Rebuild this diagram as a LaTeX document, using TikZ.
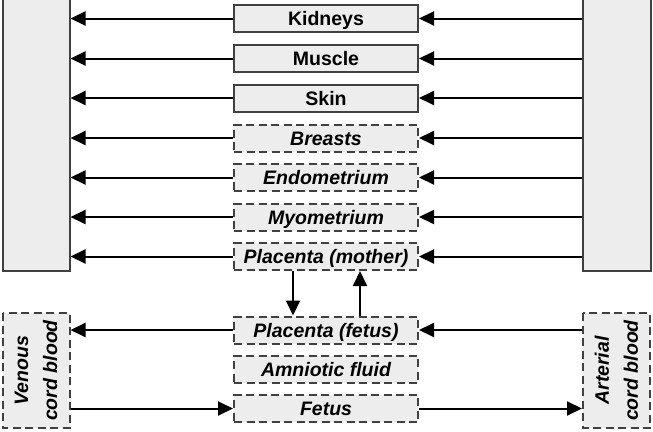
\documentclass[tikz,border=0pt]{standalone}
\usepackage{fontspec}
\setmainfont{Liberation Sans}
\usetikzlibrary{positioning,calc,arrows.meta}

\tikzset{
    organ/.style={draw=black!75, line width=2pt, fill=black!7, minimum width=184pt, minimum height=27pt, inner sep=0pt, text height=14pt, text depth=0pt, font=\fontsize{19.5}{21}\selectfont\bfseries},
    tissue/.style={organ, dash pattern=on 8pt off 4.5pt, font=\fontsize{19.5}{21}\selectfont\bfseries\itshape},
    pool/.style={draw=black!75, line width=2pt, fill=black!7, inner sep=0pt},
    cord/.style={pool, dash pattern=on 8pt off 4.5pt, rotate=90, align=center, minimum width=115pt, minimum height=67pt, font=\fontsize{19.5}{29}\selectfont\bfseries\itshape},
    flow/.style={line width=2pt, -{Triangle[length=15pt,width=14pt]}}
}

\begin{document}
\begin{tikzpicture}[x=1pt, y=-1pt]
    \useasboundingbox (0,0) rectangle (653,431);
    \clip (0,0) rectangle (653,431);

    % Maternal blood (tops cut off)
    \node[pool, minimum width=67pt, minimum height=300pt] (veinM) at (36,121) {};
    \node[pool, minimum width=68pt, minimum height=300pt] (artM) at (616.5,121) {};

    % Cord blood (rotated: south is the right side, north the left side)
    \node[cord] (veinC) at (36,370.5) {Venous\\cord blood};
    \node[cord] (artC) at (616.5,370.5) {Arterial\\cord blood};

    % Tissues
    \node[organ] (kid) at (326,18.5) {Kidneys};
    \node[organ] (mus) at (326,58.5) {Muscle};
    \node[organ] (skin) at (326,98) {Skin};
    \node[tissue] (brst) at (326,138) {Breasts};
    \node[tissue] (endo) at (326,177.5) {Endometrium};
    \node[tissue] (myo) at (326,217) {Myometrium};
    \node[tissue] (plM) at (326,256.5) {Placenta (mother)};
    \node[tissue] (plF) at (326,330) {Placenta (fetus)};
    \node[tissue] (amn) at (326,369.5) {Amniotic fluid};
    \node[tissue] (fet) at (326,408.5) {Fetus};

    % Mother's circulation
    \foreach \t in {kid,mus,skin,brst,endo,myo,plM}{
        \draw[flow] (\t.west) -- (\t.west -| veinM.east);
        \draw[flow] (artM.west |- \t.east) -- (\t.east);
    }

    % Placental exchange
    \draw[flow] ([xshift=-33pt]plM.south) -- ([xshift=-33pt]plM.south |- plF.north);
    \draw[flow] ([xshift=34pt]plF.north) -- ([xshift=34pt]plF.north |- plM.south);

    % Fetal circulation
    \draw[flow] (plF.west) -- (plF.west -| veinC.south);
    \draw[flow] (artC.north |- plF.east) -- (plF.east);
    \draw[flow] (veinC.south |- fet.west) -- (fet.west);
    \draw[flow] (fet.east) -- (fet.east -| artC.north);
\end{tikzpicture}
\end{document}
